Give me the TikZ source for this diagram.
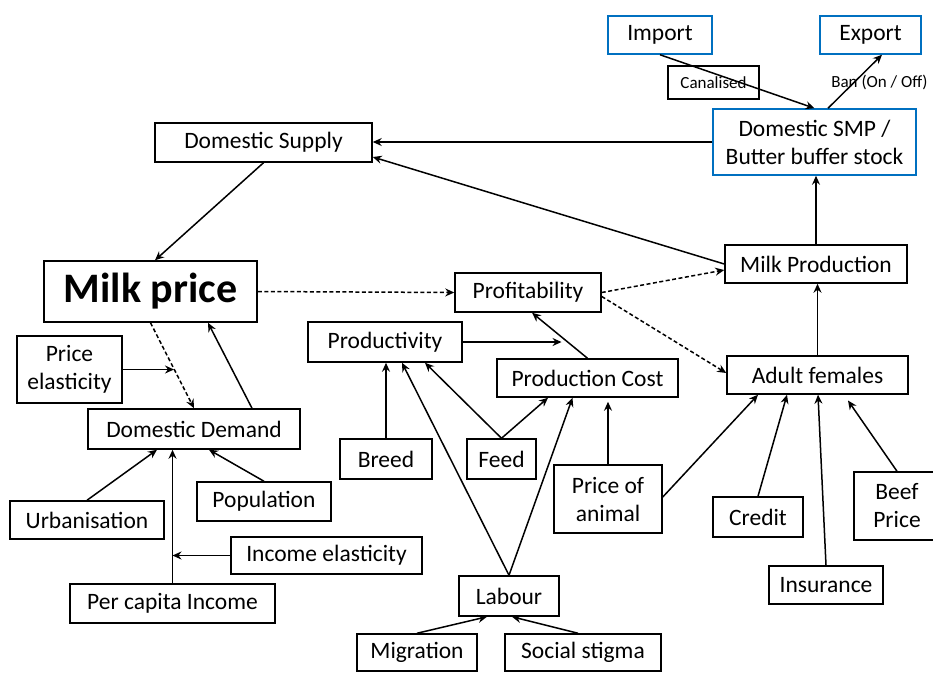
\documentclass[tikz,border=0pt]{standalone}
\usepackage{fontspec}
\setmainfont{Carlito}
\usetikzlibrary{arrows.meta,calc}
\definecolor{boxblue}{RGB}{0,112,192}
\begin{document}
\begin{tikzpicture}[x=1pt,y=-1pt,
  box/.style={draw=black,line width=1.5pt,inner sep=0pt,align=center,
    font=\fontsize{23.5}{28}\selectfont},
  bluebox/.style={box,draw=boxblue},
  arr/.style={line width=1.5pt,-{Stealth[length=9pt,width=8pt,inset=3pt]}},
  darr/.style={arr,dash pattern=on 4pt off 2.5pt},
  small/.style={font=\fontsize{17}{20}\selectfont,inner sep=0pt}]
\useasboundingbox (0,0) rectangle (933,673);
\clip (0,0) rectangle (933,673);
\fill[white] (0,0) rectangle (933,673);
% nodes
\node[bluebox,minimum width=104pt,minimum height=38pt] (imp) at (660,35) {Import};
\node[bluebox,minimum width=101pt,minimum height=38pt] (exp) at (870.5,35) {Export};
\node[box,small,line width=1.5pt,minimum width=91pt,minimum height=33pt] (can) at (713.5,82.5) {Canalised};
\node[small] (ban) at (879.5,82) {Ban (On / Off)};
\node[bluebox,minimum width=203pt,minimum height=66pt] (smp) at (814.5,142) {Domestic SMP /\\Butter buffer stock};
\node[box,minimum width=217pt,minimum height=39pt] (dsup) at (263.5,142.5) {Domestic Supply};
\node[box,minimum width=213pt,minimum height=61pt,font=\fontsize{42}{46}\selectfont\bfseries] (mp) at (150.5,291.5) {Milk price};
\node[box,minimum width=146pt,minimum height=39pt] (prof) at (528,292.5) {Profitability};
\node[box,minimum width=182pt,minimum height=38pt] (mprod) at (816,264) {Milk Production};
\node[box,minimum width=154pt,minimum height=40pt] (prodv) at (385,342) {Productivity};
\node[box,minimum width=181pt,minimum height=38pt] (pcost) at (587.5,378) {Production Cost};
\node[box,minimum width=181pt,minimum height=38pt] (adf) at (817.5,375) {Adult females};
\node[box,minimum width=105pt,minimum height=67pt] (pel) at (69.5,369.5) {Price\\elasticity};
\node[box,minimum width=212pt,minimum height=40pt] (dd) at (194,429) {Domestic Demand};
\node[box,minimum width=92pt,minimum height=40pt] (breed) at (386,459) {Breed};
\node[box,minimum width=69pt,minimum height=40pt] (feed) at (501.5,459) {Feed};
\node[box,minimum width=108pt,minimum height=68pt] (poa) at (608,499) {Price of\\animal};
\node[box,minimum width=90pt,minimum height=40pt] (credit) at (758,517) {Credit};
\node[box,minimum width=86pt,minimum height=68pt] (beef) at (897,506) {Beef\\Price};
\node[box,minimum width=114pt,minimum height=38pt] (ins) at (826,585) {Insurance};
\node[box,minimum width=154pt,minimum height=38pt] (urb) at (87,520) {Urbanisation};
\node[box,minimum width=134pt,minimum height=39pt] (pop) at (264,501.5) {Population};
\node[box,minimum width=191pt,minimum height=37pt] (inc) at (326.5,555.5) {Income elasticity};
\node[box,minimum width=205pt,minimum height=39pt] (pci) at (172.5,603.5) {Per capita Income};
\node[box,minimum width=100pt,minimum height=40pt] (lab) at (509,596) {Labour};
\node[box,minimum width=120pt,minimum height=37pt] (mig) at (417,652.5) {Migration};
\node[box,minimum width=156pt,minimum height=37pt] (soc) at (583,652.5) {Social stigma};
% helper coordinates
\coordinate (pe) at ($(mp.south)!0.54!(dd.north)$);
\coordinate (pp) at ($(pcost.north)!0.36!($(prof.south)+(4,0)$)$);
% connectors
\draw[arr] (imp.south) -- (smp.north);
\draw[arr] ($(smp.north)+(13.5,0)$) -- ($(exp.south)+(11.5,0)$);
\draw[arr] (smp.west) -- (smp.west -| dsup.east);
\draw[arr] (mprod.west) -- ($(dsup.east)+(0,14.5)$);
\draw[arr] (dsup.south) -- ($(mp.north)+(4.5,0)$);
\draw[darr] (mp.east) -- (prof.west);
\draw[darr] (mp.south) -- (dd.north);
\draw[arr] (pel.east) -- (pel.east -| pe);
\draw[arr] ($(dd.north)+(58,0)$) -- ($(mp.south)+(57.5,0)$);
\draw[arr] (urb.north) -- ($(dd.south)+(-37,0)$);
\draw[arr] (pci.north) -- (pci.north |- dd.south);
\draw[arr] (pop.north) -- ($(dd.south)+(15,0)$);
\draw[arr] (inc.west) -- (inc.west -| pci.north);
\draw[arr,shorten >=6pt] (prodv.east) -- (prodv.east -| pp);
\draw[arr] (pcost.north) -- ($(prof.south)+(4,0)$);
\draw[arr] (breed.north) -- (breed.north |- prodv.south);
\draw[arr] (feed.north) -- ($(prodv.south)+(40,0)$);
\draw[arr] (feed.north) -- ($(pcost.south)+(-39.5,0)$);
\draw[arr] (lab.north) -- ($(prodv.south)+(17,0)$);
\draw[arr] (lab.north) -- ($(pcost.south)+(-15,0)$);
\draw[arr,shorten >=4pt] (poa.north) -- (poa.north |- pcost.south);
\draw[darr] (prof.east) -- ($(mprod.west)+(0,6)$);
\draw[darr] ($(prof.east)+(0,4)$) -- ($(adf.west)+(0,-2)$);
\draw[arr] (mprod.north) -- (mprod.north |- smp.south);
\draw[arr] (adf.north) -- (adf.north |- mprod.south);
\draw[arr] ($(poa.east)+(0,-2)$) -- ($(adf.south)+(-59.5,0)$);
\draw[arr] (credit.north) -- ($(adf.south)+(-30.5,0)$);
\draw[arr] (ins.north) -- ($(adf.south)+(0.5,0)$);
\draw[arr,shorten >=7pt] (beef.north) -- ($(adf.south)+(26.5,0)$);
\draw[arr] (mig.north) -- ($(lab.south)+(-22,0)$);
\draw[arr] ($(soc.north)+(-5,0)$) -- ($(lab.south)+(3,0)$);
\end{tikzpicture}
\end{document}
